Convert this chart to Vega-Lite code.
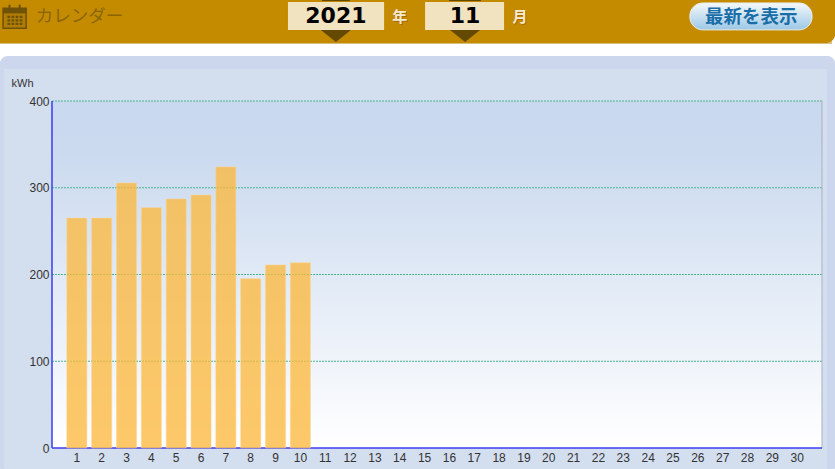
{"$schema":"https://vega.github.io/schema/vega-lite/v6.json","width":770,"height":347,"autosize":"none","padding":{"left":52,"top":101,"right":13,"bottom":21},"background":"#ffffff","view":{"stroke":null},"data":{"values":[{"page":"chart"}]},"layer":[{"mark":{"type":"rect","fill":"#ccd6ec","cornerRadius":8},"encoding":{"x":{"datum":-2.1,"type":"quantitative","scale":{"domain":[0,31],"nice":false,"zero":false,"padding":0},"axis":{"title":null,"zindex":1,"labels":false,"grid":false,"domain":false,"ticks":false}},"x2":{"datum":31.53},"y":{"datum":-30,"type":"quantitative","scale":{"domain":[0,400],"nice":false,"padding":0},"axis":{"title":null,"zindex":1,"values":[0,100,200,300,400],"grid":false,"domain":false,"ticks":false,"labelFont":"Liberation Sans","labelFontSize":12,"labelColor":"#333333","labelPadding":3,"labelBound":false,"labelFlush":false}},"y2":{"datum":452}}},{"mark":{"type":"rect","fill":"#d3deef"},"encoding":{"x":{"datum":-1.93,"type":"quantitative"},"x2":{"datum":31.2},"y":{"datum":-30,"type":"quantitative"},"y2":{"datum":437}}},{"mark":{"type":"rect","fill":{"gradient":"linear","x1":0,"y1":0,"x2":0,"y2":1,"stops":[{"offset":0,"color":"#c8d8ee"},{"offset":0.15,"color":"#cbdaef"},{"offset":1,"color":"#ffffff"}]}},"encoding":{"x":{"datum":0,"type":"quantitative"},"x2":{"datum":31},"y":{"datum":0,"type":"quantitative"},"y2":{"datum":400}}},{"mark":{"type":"rule","stroke":"#46b58a","strokeDash":[2,1],"strokeWidth":1},"encoding":{"y":{"datum":100,"type":"quantitative"}}},{"mark":{"type":"rule","stroke":"#46b58a","strokeDash":[2,1],"strokeWidth":1},"encoding":{"y":{"datum":200,"type":"quantitative"}}},{"mark":{"type":"rule","stroke":"#46b58a","strokeDash":[2,1],"strokeWidth":1},"encoding":{"y":{"datum":300,"type":"quantitative"}}},{"mark":{"type":"rule","stroke":"#46b58a","strokeDash":[2,1],"strokeWidth":1},"encoding":{"y":{"datum":400,"type":"quantitative"}}},{"mark":{"type":"rule","stroke":"#a9b2bf"},"encoding":{"x":{"datum":31,"type":"quantitative"}}},{"mark":{"type":"rule","stroke":"#3b3bf0","strokeWidth":1.5},"encoding":{"x":{"datum":0,"type":"quantitative"}}},{"mark":{"type":"rule","stroke":"#3b3bf0","strokeWidth":1.5},"encoding":{"y":{"datum":0,"type":"quantitative"}}},{"data":{"values":[{"day":1,"kWh":265},{"day":2,"kWh":265},{"day":3,"kWh":305.5},{"day":4,"kWh":277},{"day":5,"kWh":287},{"day":6,"kWh":291.5},{"day":7,"kWh":324},{"day":8,"kWh":195},{"day":9,"kWh":211},{"day":10,"kWh":213.5}]},"mark":{"type":"bar","size":20,"fill":"#fbb93f","fillOpacity":0.78,"stroke":"#fbd38a","strokeWidth":0.5},"encoding":{"x":{"field":"day","type":"quantitative"},"y":{"field":"kWh","type":"quantitative"}}},{"data":{"values":[{"day":1},{"day":2},{"day":3},{"day":4},{"day":5},{"day":6},{"day":7},{"day":8},{"day":9},{"day":10},{"day":11},{"day":12},{"day":13},{"day":14},{"day":15},{"day":16},{"day":17},{"day":18},{"day":19},{"day":20},{"day":21},{"day":22},{"day":23},{"day":24},{"day":25},{"day":26},{"day":27},{"day":28},{"day":29},{"day":30}]},"mark":{"type":"text","font":"Liberation Sans","fontSize":12,"color":"#333333","align":"center","baseline":"middle","dy":9.5},"encoding":{"x":{"field":"day","type":"quantitative"},"y":{"datum":0,"type":"quantitative"},"text":{"field":"day","type":"quantitative"}}},{"mark":{"type":"text","text":"kWh","font":"Liberation Sans","fontSize":11,"color":"#333333","align":"left","baseline":"middle"},"encoding":{"x":{"datum":-1.63,"type":"quantitative"},"y":{"datum":420,"type":"quantitative"}}},{"mark":{"type":"rect","fill":"#d8bd80"},"encoding":{"x":{"datum":-2.1,"type":"quantitative"},"x2":{"datum":31.4},"y":{"datum":465.8,"type":"quantitative"},"y2":{"datum":470}}},{"mark":{"type":"rect","fill":"#c48a00","cornerRadiusBottomRight":9},"encoding":{"x":{"datum":-2.1,"type":"quantitative"},"x2":{"datum":31.53},"y":{"datum":467,"type":"quantitative"},"y2":{"datum":520}}},{"mark":{"type":"rect","fill":"#b07c05","stroke":"#6e5208","strokeWidth":1.5},"encoding":{"x":{"datum":-1.97,"type":"quantitative"},"x2":{"datum":-1.04},"y":{"datum":484,"type":"quantitative"},"y2":{"datum":507}}},{"mark":{"type":"rect","fill":"#6e5208"},"encoding":{"x":{"datum":-1.97,"type":"quantitative"},"x2":{"datum":-1.04},"y":{"datum":501,"type":"quantitative"},"y2":{"datum":507}}},{"mark":{"type":"rect","fill":"#6e5208"},"encoding":{"x":{"datum":-1.75,"type":"quantitative"},"x2":{"datum":-1.67},"y":{"datum":502,"type":"quantitative"},"y2":{"datum":511}}},{"mark":{"type":"rect","fill":"#6e5208"},"encoding":{"x":{"datum":-1.34,"type":"quantitative"},"x2":{"datum":-1.26},"y":{"datum":502,"type":"quantitative"},"y2":{"datum":511}}},{"mark":{"type":"point","shape":"M-1,-0.62H-0.6V-0.3H-1ZM-0.4,-0.62H0V-0.3H-0.4ZM0.2,-0.62H0.6V-0.3H0.2ZM0.8,-0.62H1.2V-0.3H0.8ZM-1,-0.1H-0.6V0.22H-1ZM-0.4,-0.1H0V0.22H-0.4ZM0.2,-0.1H0.6V0.22H0.2ZM0.8,-0.1H1.2V0.22H0.8ZM-1,0.42H-0.6V0.74H-1ZM-0.4,0.42H0V0.74H-0.4ZM0.2,0.42H0.6V0.74H0.2ZM0.8,0.42H1.2V0.74H0.8Z","filled":true,"fill":"#6e5208","opacity":1,"size":185},"encoding":{"x":{"datum":-1.52,"type":"quantitative"},"y":{"datum":493.4,"type":"quantitative"}}},{"mark":{"type":"text","text":"カレンダー","font":"Noto Sans CJK JP","fontSize":17.5,"color":"#8a6608","align":"left","baseline":"middle"},"encoding":{"x":{"datum":-0.65,"type":"quantitative"},"y":{"datum":497,"type":"quantitative"}}},{"mark":{"type":"rect","fill":"#f1e2c0"},"encoding":{"x":{"datum":9.5,"type":"quantitative"},"x2":{"datum":13.37},"y":{"datum":481.8,"type":"quantitative"},"y2":{"datum":514}}},{"mark":{"type":"rect","fill":"#f1e2c0"},"encoding":{"x":{"datum":15.02,"type":"quantitative"},"x2":{"datum":18.2},"y":{"datum":481.8,"type":"quantitative"},"y2":{"datum":514}}},{"mark":{"type":"rect","fill":"#644a00"},"encoding":{"x":{"datum":10.87,"type":"quantitative"},"x2":{"datum":11.99},"y":{"datum":515.2,"type":"quantitative"},"y2":{"datum":516.4}}},{"mark":{"type":"rect","fill":"#644a00"},"encoding":{"x":{"datum":15.99,"type":"quantitative"},"x2":{"datum":17.27},"y":{"datum":515.2,"type":"quantitative"},"y2":{"datum":516.4}}},{"mark":{"type":"text","text":"2021","font":"DejaVu Sans","fontWeight":"bold","fontSize":22,"color":"#000000","align":"center","baseline":"middle"},"encoding":{"x":{"datum":11.43,"type":"quantitative"},"y":{"datum":497.5,"type":"quantitative"}}},{"mark":{"type":"text","text":"11","font":"DejaVu Sans","fontWeight":"bold","fontSize":22,"color":"#000000","align":"center","baseline":"middle"},"encoding":{"x":{"datum":16.63,"type":"quantitative"},"y":{"datum":497.5,"type":"quantitative"}}},{"mark":{"type":"point","shape":"M-1,-0.4L1,-0.4L0,0.4Z","filled":true,"fill":"#644a00","opacity":1,"size":900},"encoding":{"x":{"datum":11.43,"type":"quantitative"},"y":{"datum":475,"type":"quantitative"}}},{"mark":{"type":"point","shape":"M-1,-0.4L1,-0.4L0,0.4Z","filled":true,"fill":"#644a00","opacity":1,"size":900},"encoding":{"x":{"datum":16.63,"type":"quantitative"},"y":{"datum":475,"type":"quantitative"}}},{"mark":{"type":"text","text":"年","font":"Noto Sans CJK JP","fontWeight":"bold","fontSize":15,"color":"#a86a00","dx":1,"dy":1,"align":"center","baseline":"middle"},"encoding":{"x":{"datum":14.0,"type":"quantitative"},"y":{"datum":497,"type":"quantitative"}}},{"mark":{"type":"text","text":"月","font":"Noto Sans CJK JP","fontWeight":"bold","fontSize":15,"color":"#a86a00","dx":1,"dy":1,"align":"center","baseline":"middle"},"encoding":{"x":{"datum":18.84,"type":"quantitative"},"y":{"datum":497,"type":"quantitative"}}},{"mark":{"type":"text","text":"年","font":"Noto Sans CJK JP","fontWeight":"bold","fontSize":15,"color":"#f7ead0","align":"center","baseline":"middle"},"encoding":{"x":{"datum":14.0,"type":"quantitative"},"y":{"datum":497,"type":"quantitative"}}},{"mark":{"type":"text","text":"月","font":"Noto Sans CJK JP","fontWeight":"bold","fontSize":15,"color":"#f7ead0","align":"center","baseline":"middle"},"encoding":{"x":{"datum":18.84,"type":"quantitative"},"y":{"datum":497,"type":"quantitative"}}},{"mark":{"type":"rect","fill":{"gradient":"linear","x1":0,"y1":0,"x2":0,"y2":1,"stops":[{"offset":0,"color":"#f4f8fb"},{"offset":1,"color":"#9cc8e6"}]},"stroke":"#e8f0f5","cornerRadius":13},"encoding":{"x":{"datum":25.68,"type":"quantitative"},"x2":{"datum":30.6},"y":{"datum":482,"type":"quantitative"},"y2":{"datum":513}}},{"mark":{"type":"text","text":"最新を表示","font":"Noto Sans CJK JP","fontWeight":"bold","fontSize":18.5,"color":"#1a6ea8","align":"center","baseline":"middle"},"encoding":{"x":{"datum":28.15,"type":"quantitative"},"y":{"datum":497,"type":"quantitative"}}}]}
